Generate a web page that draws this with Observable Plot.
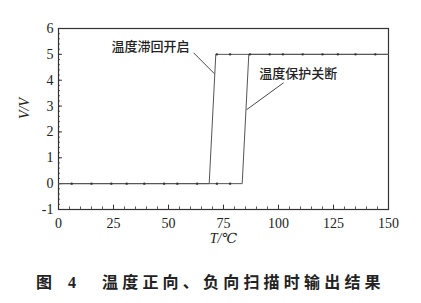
<!DOCTYPE html>
<html>
<head>
<meta charset="utf-8">
<script src="https://cdn.jsdelivr.net/npm/d3@7"></script>
<script src="https://cdn.jsdelivr.net/npm/@observablehq/plot@0.6"></script>
<style>
  body { margin: 0; background: #fff; width: 421px; }
  #chart svg { display: block; }
  .caption {
    height: 48px;
    font-family: 'Noto Sans CJK SC', sans-serif;
    font-size: 16px;
    font-weight: 700;
    color: #222;
    white-space: pre;
    padding-left: 36px;
    line-height: 48px;
    margin-top: 2px;
  }
  .caption .fig { letter-spacing: 6px; font-family: 'Liberation Serif', 'Noto Sans CJK SC', serif; }
  .caption .main { letter-spacing: 4.2px; margin-left: 20px; }
</style>
</head>
<body>
<div id="chart"></div>
<div class="caption"><span class="fig">图 4</span><span class="main">温度正向、负向扫描时输出结果</span></div>
<script>
// Forward scan: output switches off (protection) near 84–86 °C
const upT = [0, 6, 15, 24, 31, 39, 48, 54, 63, 72, 78, 83.5, 86.5, 96, 102, 111, 120, 127, 135, 144, 150];
const upV = [0, 0, 0, 0, 0, 0, 0, 0, 0, 0, 0, 0, 5, 5, 5, 5, 5, 5, 5, 5, 5];
// Reverse scan: hysteresis re-opens near 68–71 °C
const downT = [150, 144, 135, 127, 120, 111, 102, 96, 87, 78, 71.5, 68.5, 63, 54, 48, 39, 31, 24, 15, 6, 0];
const downV = [5, 5, 5, 5, 5, 5, 5, 5, 5, 5, 5, 0, 0, 0, 0, 0, 0, 0, 0, 0, 0];

// Markers sitting on the curves
const markerT = [6, 15, 24, 31, 39, 48, 54, 63, 72, 78, 72, 78, 87, 96, 102, 111, 120, 127, 135, 144];
const markerV = [0, 0, 0, 0, 0, 0, 0, 0, 0, 0, 5, 5, 5, 5, 5, 5, 5, 5, 5, 5];

// Axis ticks
const xTicks = [0, 25, 50, 75, 100, 125, 150];
const xMinor = d3.range(0, 151, 5);
const yTicks = [-1, 0, 1, 2, 3, 4, 5, 6];
const yMinor = d3.range(-1, 6.001, 0.2);

// Annotations
const noteText = ["温度滞回开启", "温度保护关断"];
const noteX = [41.8, 109];
const noteY = [5.29, 4.25];
const leaderX1 = [61.4, 102.3], leaderY1 = [5.06, 3.9];
const leaderX2 = [70.9, 85.5], leaderY2 = [4.25, 2.86];

const up = upT.map((t, i) => ({t, v: upV[i]}));
const down = downT.map((t, i) => ({t, v: downV[i]}));
const markers = markerT.map((t, i) => ({t, v: markerV[i]}));
const notes = noteText.map((s, i) => ({s, x: noteX[i], y: noteY[i]}));
const leaders = leaderX1.map((x1, i) => ({x1, y1: leaderY1[i], x2: leaderX2[i], y2: leaderY2[i]}));

const serif = "'Liberation Serif', 'DejaVu Serif', serif";
const cjk = "'Noto Sans CJK SC', sans-serif";
const plain = d => String(d);

const chart = Plot.plot({
  width: 421,
  height: 255,
  marginLeft: 58,
  marginRight: 33,
  marginTop: 28,
  marginBottom: 46,
  style: {fontFamily: serif, fontSize: "14px", color: "#222", background: "#fff"},
  x: {domain: [0, 150]},
  y: {domain: [-1, 6]},
  marks: [
    Plot.frame({stroke: "#333", strokeWidth: 1.2}),
    // tick labels
    Plot.axisX({ticks: xTicks, tickFormat: plain, tickSize: 0, tickPadding: 9, fontSize: 14, fontFamily: serif, label: null}),
    Plot.axisY({ticks: yTicks, tickFormat: plain, tickSize: 0, tickPadding: 5, fontSize: 14, fontFamily: serif, label: null}),
    // inward ticks
    Plot.ruleY(yMinor, {x1: 0, x2: 0.9, stroke: "#333", strokeWidth: 0.8}),
    Plot.ruleY(yTicks, {x1: 0, x2: 1.8, stroke: "#333", strokeWidth: 1}),
    Plot.ruleX(xMinor, {y1: -1, y2: -0.9, stroke: "#333", strokeWidth: 0.8}),
    Plot.ruleX(xTicks, {y1: -1, y2: -0.83, stroke: "#333", strokeWidth: 1}),
    // curves
    Plot.line(down, {x: "t", y: "v", stroke: "#555", strokeWidth: 1}),
    Plot.line(up, {x: "t", y: "v", stroke: "#555", strokeWidth: 1}),
    Plot.dot(markers, {x: "t", y: "v", r: 1.2, fill: "#333", stroke: null}),
    // annotations
    Plot.link(leaders, {x1: "x1", y1: "y1", x2: "x2", y2: "y2", stroke: "#333", strokeWidth: 0.9}),
    Plot.text(notes, {x: "x", y: "y", text: "s", fontFamily: cjk, fontSize: 13, fontWeight: 500, fill: "#222"}),
    // axis titles
    Plot.text(["V/V"], {frameAnchor: "left", dx: -34, rotate: -90, fontFamily: serif, fontStyle: "italic", fontSize: 14, fill: "#222"}),
    Plot.text(["T/℃"], {frameAnchor: "bottom", dy: 33, fontFamily: serif, fontStyle: "italic", fontSize: 14, fill: "#222"})
  ]
});
document.getElementById("chart").append(chart);
</script>
</body>
</html>
